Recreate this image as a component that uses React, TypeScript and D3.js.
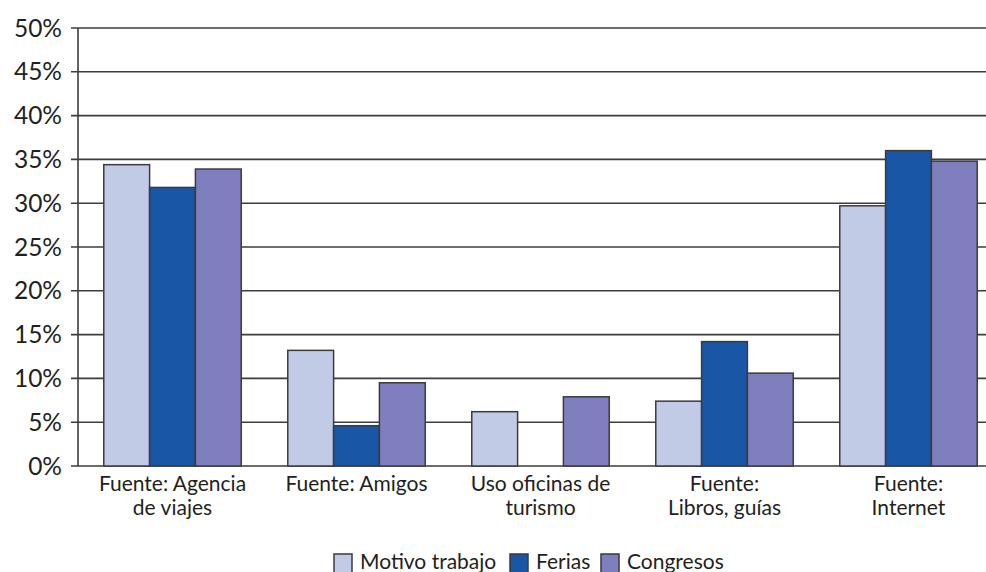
import React, { useEffect, useRef } from "react";
import * as d3 from "d3";

const categories = [
  ["Fuente: Agencia", "de viajes"],
  ["Fuente: Amigos"],
  ["Uso oficinas de", "turismo"],
  ["Fuente:", "Libros, guías"],
  ["Fuente:", "Internet"],
];
const seriesNames = ["Motivo trabajo", "Ferias", "Congresos"];
const motivoTrabajo = [34.4, 13.2, 6.2, 7.4, 29.7];
const ferias = [31.8, 4.6, 0, 14.2, 36.0];
const congresos = [33.9, 9.5, 7.9, 10.6, 34.8];
const yTicks = [0, 5, 10, 15, 20, 25, 30, 35, 40, 45, 50];
const colors = ["#c2cbe6", "#1a56a6", "#7f7fbd"];

const W = 986;
const H = 572;
const FONT = "Lato, 'Open Sans', sans-serif";
const TEXT = "#231f20";

export default function App() {
  const ref = useRef<SVGSVGElement>(null);

  useEffect(() => {
    const svg = d3.select(ref.current);
    svg.selectAll("*").remove();

    const left = 78;
    const top = 28;
    const bottom = 466;
    const series = [motivoTrabajo, ferias, congresos];

    const y = d3.scaleLinear().domain([0, 50]).range([bottom, top]);
    const x0 = d3
      .scaleBand<number>()
      .domain(categories.map((_, i) => i))
      .range([80.5, 1000.5])
      .paddingInner(0.253)
      .paddingOuter(0.1265);
    const x1 = d3
      .scaleBand<number>()
      .domain([0, 1, 2])
      .range([0, x0.bandwidth()]);

    // gridlines and tick labels
    const grid = svg.append("g");
    yTicks.forEach((t) => {
      grid
        .append("line")
        .attr("x1", left - 7)
        .attr("x2", W)
        .attr("y1", y(t))
        .attr("y2", y(t))
        .attr("stroke", "#3d3d3d")
        .attr("stroke-width", 1.6);
      grid
        .append("text")
        .attr("x", 62)
        .attr("y", y(t) + 8.5)
        .attr("text-anchor", "end")
        .attr("font-family", FONT)
        .attr("font-size", 24.5)
        .attr("fill", TEXT)
        .text(`${t}%`);
    });

    // bars
    categories.forEach((_, ci) => {
      series.forEach((vals, si) => {
        const v = vals[ci];
        if (v <= 0) return;
        svg
          .append("rect")
          .attr("x", (x0(ci) ?? 0) + (x1(si) ?? 0))
          .attr("y", y(v))
          .attr("width", x1.bandwidth())
          .attr("height", bottom - y(v))
          .attr("fill", colors[si])
          .attr("stroke", "#3a3a3f")
          .attr("stroke-width", 1.5);
      });
    });

    // y axis line
    svg
      .append("line")
      .attr("x1", left)
      .attr("x2", left)
      .attr("y1", top)
      .attr("y2", bottom)
      .attr("stroke", "#3d3d3d")
      .attr("stroke-width", 1.6);

    // category labels
    categories.forEach((lines, ci) => {
      const cx = (x0(ci) ?? 0) + x0.bandwidth() / 2;
      const t = svg
        .append("text")
        .attr("text-anchor", "middle")
        .attr("font-family", FONT)
        .attr("font-size", 21)
        .attr("fill", TEXT);
      lines.forEach((ln, li) => {
        t.append("tspan").attr("x", cx).attr("y", 491 + li * 24).text(ln);
      });
    });

    // legend
    const legendX = [334, 510, 601];
    seriesNames.forEach((name, i) => {
      svg
        .append("rect")
        .attr("x", legendX[i])
        .attr("y", 554)
        .attr("width", 18)
        .attr("height", 20)
        .attr("fill", colors[i])
        .attr("stroke", "#3a3a3f")
        .attr("stroke-width", 1.5);
      svg
        .append("text")
        .attr("x", legendX[i] + 26)
        .attr("y", 569)
        .attr("font-family", FONT)
        .attr("font-size", 21)
        .attr("fill", TEXT)
        .text(name);
    });
  }, []);

  return (
    <svg
      ref={ref}
      width={W}
      height={H}
      style={{ position: "absolute", left: 0, top: 0, background: "#fff" }}
    />
  );
}
